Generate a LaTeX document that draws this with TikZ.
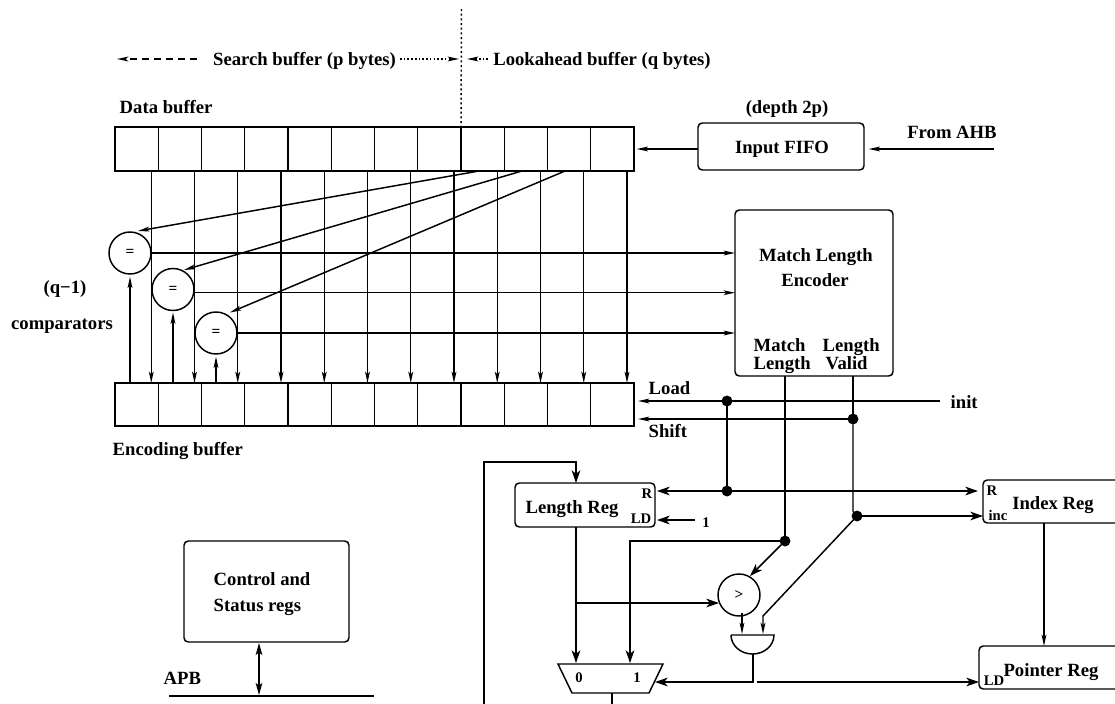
\documentclass[tikz,border=0pt]{standalone}
\usepackage{fontspec}
\setmainfont{Liberation Serif}
\usetikzlibrary{arrows.meta,calc}
\tikzset{
  x=0.75pt,y=-0.75pt,
  every path/.style={line width=1.1pt},
  lbl/.style={anchor=base,inner sep=0pt,font=\fontsize{14}{16}\selectfont\bfseries},
  lbll/.style={lbl,anchor=base west},
  sml/.style={lbl,font=\fontsize{11}{12}\selectfont\bfseries},
  cell/.style={draw,rectangle,inner sep=0pt,outer sep=0pt},
  rbox/.style={draw,rectangle,inner sep=0pt,outer sep=0pt,rounded corners=3.2pt},
  cmp/.style={draw,circle,inner sep=0pt,outer sep=0pt,minimum size=31.5pt,font=\fontsize{11.5}{12}\selectfont\bfseries},
  dot/.style={fill=black,circle,inner sep=0pt,outer sep=0pt,minimum size=8.2pt},
  arr/.style={-{Stealth[length=8.5pt,width=3.6pt,inset=2pt]}},
  barr/.style={-{Stealth[length=9.5pt,width=6.5pt,inset=2.6pt]}},
}
\newcommand{\boxnode}[6]{%
  \pgfmathsetmacro\bw{(#5-#3)*.75}\pgfmathsetmacro\bh{(#6-#4)*.75}%
  \node[#1,minimum width=\bw pt,minimum height=\bh pt] (#2) at ({(#3+#5)/2},{(#4+#6)/2}) {};}
\begin{document}
\begin{tikzpicture}
\useasboundingbox (0,0) rectangle (1115,704);
% buffers
\foreach \i in {1,...,12}{
  \pgfmathsetmacro\xa{115+(\i-1)*43.25}\pgfmathsetmacro\xb{115+\i*43.25}
  \boxnode{cell}{d\i}{\xa}{127}{\xb}{171}
  \boxnode{cell}{e\i}{\xa}{383}{\xb}{426}
}
\foreach \i in {1,...,12}
  \draw[arr] ($(d\i.south east)+(-7,0)$) -- ($(e\i.north east)+(-7,0)$);
% top markers
\coordinate (topdiv) at (461.5,9);
\draw[dash pattern=on 1.5pt off 2pt,line width=1.1pt] (topdiv) -- (d9.north west);
\coordinate (sl) at (117,59); \coordinate (sr) at (197,59);
\coordinate (ml) at (400,59); \coordinate (mr) at (459,59);
\coordinate (ll) at (488,59); \coordinate (lr) at (467,59);
\draw[arr,dash pattern=on 5pt off 4pt] (sr) -- (sl);
\draw[arr,dash pattern=on 1.2pt off 1.6pt] (ml) -- (mr);
\draw[arr,dash pattern=on 1.2pt off 1.6pt] (ll) -- (lr);
\node[lbl] (tsearch) at (304.5,65.5) {Search buffer (p bytes)};
\node[lbl] (tlook) at (602,65.5) {Lookahead buffer (q bytes)};
\node[lbll] (tdata) at (119,113) {Data buffer};
\node[lbll] (tenc) at (112,455) {Encoding buffer};
\node[lbl] (tq) at (65,293) {(q−1)};
\node[lbl] (tcomp) at (62,329) {comparators};
% FIFO
\boxnode{rbox}{fifo}{698}{123}{864}{170}
\node[lbl] (tfifo) at (782,153) {Input FIFO};
\node[lbl] (tdepth) at (787,113) {(depth 2p)};
\node[lbl] (tahb) at (952,138) {From AHB};
\coordinate (ahb) at (994,149);
\draw[arr,shorten >=2pt] (fifo.west |- d12.east) -- (d12.east);
\draw[arr,shorten >=3.5pt] (ahb) -- (fifo.east |- ahb);
% comparators
\node[cmp] (c1) at (130,253) {=};
\node[cmp] (c2) at (173,289.5) {=};
\node[cmp] (c3) at (216,333) {=};
% encoder
\boxnode{rbox}{mle}{735}{210}{893}{376}
\node[lbl] (tm1) at (816,261) {Match Length};
\node[lbl] (tm2) at (815,286) {Encoder};
\node[lbll] (tm3) at (753,351) {Match};
\node[lbll] (tm4) at (753,369) {Length};
\node[lbll] (tm5) at (822,351) {Length};
\node[lbll] (tm6) at (825,369) {Valid};
\draw[arr] (c1.east) -- (c1.east -| mle.west);
\draw[arr] ($(c2.east)+(0,3.2)$) -- ($(c2.east -| mle.west)+(0,3.2)$);
\draw[arr] (c3.east) -- (c3.east -| mle.west);
% up arrows
\draw[arr,shorten >=2pt] (e1.north -| c1) -- (c1.south);
\draw[arr,shorten >=1.5pt] (e2.north -| c2) -- (c2.south);
\draw[arr,shorten >=2pt] (e3.north -| c3) -- (c3.south);
% diagonals
\coordinate (dg1) at (479,171); \coordinate (dg2) at (522,171); \coordinate (dg3) at (565,171);
\coordinate (dt1) at (138,231); \coordinate (dt2) at (184,270); \coordinate (dt3) at (230,312.5);
\draw[arr] (dg1) -- (dt1);
\draw[arr] (dg2) -- (dt2);
\draw[arr] (dg3) -- (dt3);
% regs (the two on the right run past the edge of the picture)
\boxnode{rbox}{lreg}{515}{483}{655}{527}
\boxnode{rbox}{ireg}{983}{480}{1125}{523}
\boxnode{rbox}{preg}{979}{646}{1125}{689}
\boxnode{rbox}{ctrl}{184}{541}{349}{642}
\node[lbl] (tl) at (572,513) {Length Reg};
\node[sml] (tlr) at (647,498) {R};
\node[sml] (tlld) at (641,523) {LD};
\node[sml] (tone) at (706,527) {1};
\node[lbl] (ti) at (1053,509) {Index Reg};
\node[sml] (tir) at (992,495) {R};
\node[sml] (tii) at (998,520) {inc};
\node[lbl] (tp) at (1051,676) {Pointer Reg};
\node[sml] (tpl) at (994,685) {LD};
\node[lbll] (tc1) at (213,585) {Control and};
\node[lbll] (tc2) at (213,611) {Status regs};
\node[lbll] (tapb) at (163,684) {APB};
% load / shift
\node[dot] (jload) at (727,401) {};
\node[dot] (jshift) at (853,419) {};
\node[dot] (jr) at (727,491) {};
\node[dot] (jm) at (785,541) {};
\node[dot] (jv) at (857,516) {};
\coordinate (init) at (940,401);
\coordinate (loadtip) at (638,401);
\coordinate (shifttip) at (638,419);
\node[lbll] (tinit) at (950,408) {init};
\node[lbll] (tload) at (648,394) {Load};
\node[lbll] (tshift) at (648,437) {Shift};
\draw[arr] (init) -- (loadtip);
\draw[arr] (jshift) -- (shifttip);
\draw (jload) -- (jr);
\draw[barr] (jr) -- (657,491);
\draw[barr] (jr) -- (978,491);
\draw (785,376) -- (jm);
\draw (853,376) -- (jshift);
\draw (jshift) -- (853,511) -- (jv);
\draw[barr] (jv) -- (ireg.west |- jv);
\coordinate (onein) at (695,520);
\draw[barr] (onein) -- (657,520);
% feedback
\coordinate (fbb) at (484,704);
\coordinate (fbt) at (484,462);
\draw[barr] (fbb) -- (fbt) -| (lreg.north -| 576,0);
% mux
\coordinate (m1) at (558,664); \coordinate (m2) at (663,664);
\coordinate (m3) at (649,693); \coordinate (m4) at (572,693);
\draw (m1) -- (m2) -- (m3) -- (m4) -- cycle;
\node[sml] (t0) at (579,682) {0};
\node[sml] (t1) at (637,682) {1};
\coordinate (mout) at (612,693); \coordinate (mbot) at (612,704);
\draw (mout) -- (mbot);
\draw[barr] (lreg.south -| 576,0) -- (576,663);
% comparator >
\node[cmp] (gt) at (739,595) {>};
\draw[barr] (576,603) -- (719,603);
\draw[barr] (jm) -- (630,541) -- (630,663);
\draw[barr] (jm) -- (750,576);
% and gate
\coordinate (gl) at (731,635); \coordinate (gr) at (774,635);
\draw (gl) -- (gr) arc[start angle=0,end angle=180,x radius=21.5,y radius=19];
\coordinate (gin1) at (742,634); \coordinate (gin2) at (763,634); \coordinate (gout) at (753,654);
\draw[arr] (742,613) -- (gin1);
\draw[arr] (jv) -- (763,616) -- (gin2);
\draw[barr] (gout) -- (753,682) -- (655,682);
\draw[barr] (757,682) -- (preg.west |- 0,682);
% index to pointer
\draw[arr] (ireg.south -| 1044,0) -- (preg.north -| 1044,0);
% APB
\coordinate (apbl) at (169,696); \coordinate (apbr) at (374,696);
\draw (apbl) -- (apbr);
\draw[{Stealth[length=9pt,width=5pt,inset=2pt]}-{Stealth[length=9pt,width=5pt,inset=2pt]}] (259,643) -- (259,695);
\end{tikzpicture}
\end{document}
